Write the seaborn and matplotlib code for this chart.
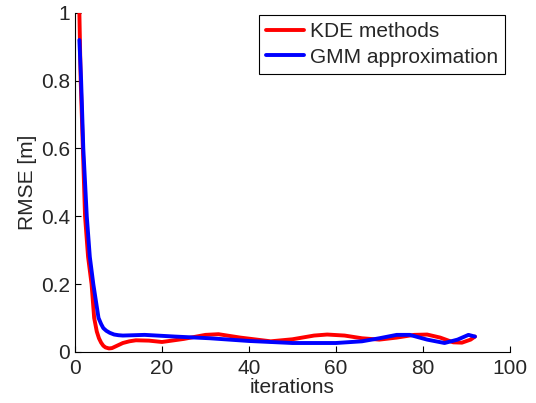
import pandas as pd
import seaborn as sns
import numpy as np
import matplotlib.pyplot as plt

# values
kde_iter = [1, 1.3, 1.8, 2.3, 3, 3.8, 4.4, 5, 5.5, 6, 6.5, 7, 7.8, 8.5, 9, 10, 11, 12.5, 14,
            17, 20, 25, 30, 33, 38, 45, 50, 55, 58, 62, 66, 70, 74, 78, 81, 84, 87, 89, 91, 92]
kde_rmse = [1.0, 0.8, 0.6, 0.4, 0.28, 0.2, 0.1, 0.06, 0.04, 0.027, 0.018, 0.013, 0.01, 0.011,
            0.014, 0.02, 0.026, 0.031, 0.034, 0.033, 0.029, 0.038, 0.05, 0.052, 0.042, 0.031,
            0.037, 0.048, 0.051, 0.048, 0.04, 0.036, 0.042, 0.05, 0.051, 0.042, 0.028, 0.027,
            0.036, 0.045]

gmm_iter = [1, 1.4, 1.9, 2.7, 3.4, 4.2, 5.4, 6, 6.5, 7.2, 8, 9, 10, 11, 16, 23, 31, 40, 50,
            60, 66, 70, 74, 77, 81, 85, 88, 90.5, 92]
gmm_rmse = [0.92, 0.8, 0.6, 0.4, 0.28, 0.2, 0.1, 0.082, 0.07, 0.062, 0.056, 0.051, 0.049,
            0.048, 0.05, 0.045, 0.04, 0.032, 0.026, 0.026, 0.031, 0.04, 0.05, 0.05, 0.036,
            0.026, 0.036, 0.05, 0.045]

kde = pd.DataFrame({'iterations': kde_iter, 'rmse': kde_rmse, 'method': 'KDE methods'})
gmm = pd.DataFrame({'iterations': gmm_iter, 'rmse': gmm_rmse, 'method': 'GMM approximation'})
df = pd.concat([kde, gmm], ignore_index=True)

sns.set_style('ticks')
plt.rcParams['font.family'] = ['Liberation Sans', 'DejaVu Sans']
plt.rcParams['xtick.direction'] = 'in'
plt.rcParams['ytick.direction'] = 'in'

fig = plt.figure(figsize=(5.36, 4.03), dpi=100)
ax = fig.add_axes([0.14, 0.127, 0.811, 0.841])

sns.lineplot(x='iterations', y='rmse', hue='method', data=df, ax=ax,
             palette={'KDE methods': '#ff0000', 'GMM approximation': '#0000ff'},
             linewidth=2.8, estimator=None, sort=False)

ax.set_xlim(0, 100)
ax.set_ylim(0, 1)
ax.set_xticks([0, 20, 40, 60, 80, 100])
ax.set_yticks([0, 0.2, 0.4, 0.6, 0.8, 1])
ax.set_yticklabels(['0', '0.2', '0.4', '0.6', '0.8', '1'])
ax.tick_params(labelsize=15, length=4, width=0.8, color='black')
ax.tick_params(axis='x', pad=5)
ax.set_xlabel('iterations', fontsize=15, labelpad=0)
ax.set_ylabel('RMSE [m]', fontsize=15, labelpad=3)
for s in ['top', 'right']:
    ax.spines[s].set_visible(False)
for s in ['left', 'bottom']:
    ax.spines[s].set_linewidth(0.8)
    ax.spines[s].set_color('black')

leg = ax.legend(loc='upper right', fontsize=15, frameon=True, fancybox=False,
                edgecolor='black', framealpha=1, borderaxespad=0.1,
                bbox_to_anchor=(0.995, 1.0),
                handlelength=1.8, handletextpad=0.3, borderpad=0.35, labelspacing=0.3)
leg.get_frame().set_linewidth(0.8)

plt.savefig('out.png', dpi=100)
